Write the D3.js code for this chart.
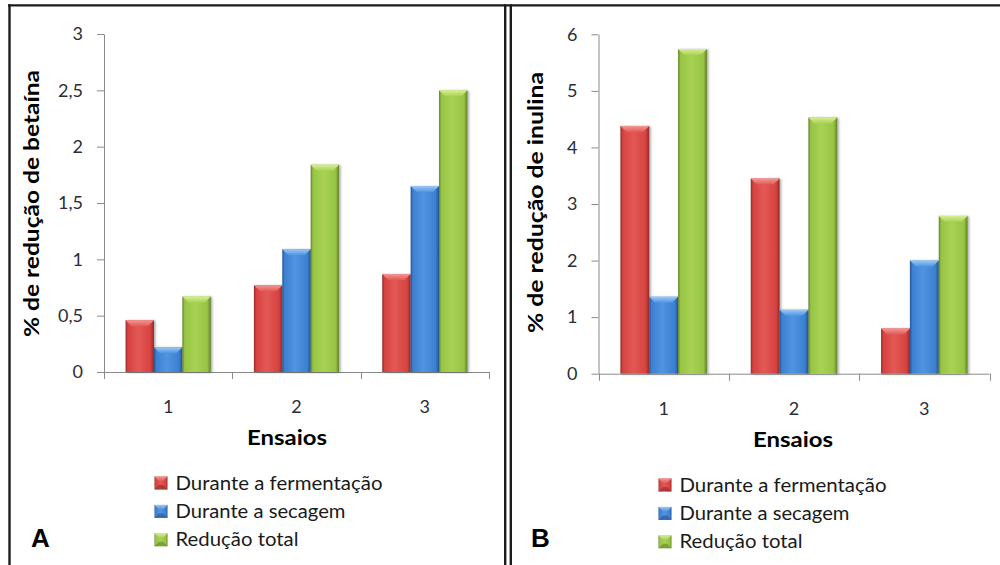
<!DOCTYPE html>
<html>
<head>
<meta charset="utf-8">
<script src="https://cdn.jsdelivr.net/npm/d3@7/dist/d3.min.js"></script>
<style>
  html, body { margin: 0; padding: 0; background: #fff; }
  svg { display: block; }
</style>
</head>
<body>
<svg id="chart" width="1000" height="565"></svg>
<script>
// Ensaios (trials) on the x axis
const ensaios = ["1", "2", "3"];
// Legend series
const series = ["Durante a fermentação", "Durante a secagem", "Redução total"];

// Panel A: % de redução de betaína
const betainaFermentacao = [0.46, 0.77, 0.87];
const betainaSecagem     = [0.22, 1.09, 1.65];
const betainaTotal       = [0.67, 1.84, 2.50];
const betainaTicks       = [0, 0.5, 1, 1.5, 2, 2.5, 3];

// Panel B: % de redução de inulina
const inulinaFermentacao = [4.38, 3.45, 0.80];
const inulinaSecagem     = [1.36, 1.13, 2.00];
const inulinaTotal       = [5.74, 4.53, 2.79];
const inulinaTicks       = [0, 1, 2, 3, 4, 5, 6];

const svg = d3.select("#chart");
const defs = svg.append("defs");
const ptBR = d3.formatLocale({decimal: ",", thousands: ".", grouping: [3], currency: ["R$", ""]});
const fmt = ptBR.format(".1~f");

// Bevelled bar colours: [dark edge, body, highlight, bevel top]
const palette = {
  "Durante a fermentação": ["#8e2a28", "#d7423f", "#e25956", "#f29896"],
  "Durante a secagem":     ["#24538f", "#3b80d2", "#5095e0", "#9cc8f5"],
  "Redução total":         ["#62802a", "#96c443", "#a8d253", "#d6ef95"]
};
const keyOf = s => "g" + series.indexOf(s);

series.forEach(s => {
  const c = palette[s];
  const g = defs.append("linearGradient").attr("id", keyOf(s)).attr("x1", 0).attr("x2", 1).attr("y1", 0).attr("y2", 0);
  [[0, c[0]], [0.08, c[1]], [0.45, c[2]], [0.88, c[1]], [1, c[0]]].forEach(([o, col]) =>
    g.append("stop").attr("offset", o).attr("stop-color", col));
  const b = defs.append("linearGradient").attr("id", keyOf(s) + "b").attr("x1", 0).attr("x2", 0).attr("y1", 0).attr("y2", 1);
  b.append("stop").attr("offset", 0).attr("stop-color", c[3]);
  b.append("stop").attr("offset", 1).attr("stop-color", c[2]);
});
const shadow = defs.append("filter").attr("id", "shadow").attr("x", "-20%").attr("y", "-5%").attr("width", "150%").attr("height", "115%");
shadow.append("feDropShadow").attr("dx", 1.5).attr("dy", 0.5).attr("stdDeviation", 1.1)
  .attr("flood-color", "#000").attr("flood-opacity", 0.35);

const FONT = "Lato, 'Open Sans', sans-serif";

function panel(cfg) {
  const g = svg.append("g");
  const x = d3.scaleBand().domain(ensaios).range([cfg.x0, cfg.x1]).padding(0);
  const xs = d3.scaleBand().domain(series).range([0, x.bandwidth()]).paddingInner(0).paddingOuter(0.76);
  const y = d3.scaleLinear().domain([0, d3.max(cfg.ticks)]).range([cfg.yb, cfg.yt]);

  // y axis
  const ya = g.append("g").attr("transform", `translate(${cfg.x0},0)`)
    .call(d3.axisLeft(y).tickValues(cfg.ticks).tickFormat(fmt).tickSize(7).tickSizeOuter(0).tickPadding(14));
  ya.select(".domain").attr("stroke", "#8a8a8a");
  ya.selectAll(".tick line").attr("stroke", "#8a8a8a");
  ya.selectAll(".tick text").attr("fill", "#2c2c36").style("font", `18px ${FONT}`);

  // x axis with boundary ticks, labels centred in each band
  g.append("line").attr("x1", cfg.x0).attr("x2", cfg.x1).attr("y1", cfg.yb + 0.5).attr("y2", cfg.yb + 0.5).attr("stroke", "#8a8a8a");
  const bounds = [cfg.x0].concat(ensaios.map(e => x(e) + x.bandwidth()));
  g.selectAll(".xt").data(bounds).join("line").attr("class", "xt")
    .attr("x1", d => Math.round(d) + 0.5).attr("x2", d => Math.round(d) + 0.5)
    .attr("y1", cfg.yb).attr("y2", cfg.yb + 7).attr("stroke", "#8a8a8a");
  g.selectAll(".xl").data(ensaios).join("text").attr("class", "xl")
    .attr("x", d => x(d) + x.bandwidth() / 2).attr("y", cfg.catBase)
    .attr("text-anchor", "middle").attr("fill", "#2c2c36").style("font", `18px ${FONT}`).text(d => d);

  // bars
  const rows = [];
  ensaios.forEach((e, i) => series.forEach((s, k) => rows.push({e, s, v: cfg.values[k][i]})));
  const bars = g.selectAll(".bar").data(rows).join("g").attr("class", "bar");
  bars.append("rect")
    .attr("x", d => x(d.e) + xs(d.s)).attr("width", xs.bandwidth())
    .attr("y", d => y(d.v)).attr("height", d => y(0) - y(d.v))
    .attr("fill", d => `url(#${keyOf(d.s)})`).attr("filter", "url(#shadow)");
  bars.append("path")
    .attr("d", d => {
      const bx = x(d.e) + xs(d.s), bw = xs.bandwidth(), by = y(d.v), h = Math.min(6, y(0) - y(d.v));
      return `M${bx},${by}H${bx + bw}L${bx + bw - 6},${by + h}H${bx + 6}Z`;
    })
    .attr("fill", d => `url(#${keyOf(d.s)}b)`);

  // axis titles
  g.append("text")
    .attr("transform", `translate(${cfg.titleX},${cfg.titleY}) rotate(-90)`)
    .attr("text-anchor", "middle").attr("fill", "#000")
    .attr("textLength", cfg.titleLen).attr("lengthAdjust", "spacingAndGlyphs")
    .style("font", `bold 21px ${FONT}`).text(cfg.title);
  g.append("text").attr("x", cfg.ensX).attr("y", cfg.ensBase).attr("text-anchor", "middle")
    .attr("textLength", 80).attr("lengthAdjust", "spacingAndGlyphs")
    .style("font", `bold 21px ${FONT}`).attr("fill", "#000").text("Ensaios");

  // legend
  const lg = g.selectAll(".lg").data(series).join("g").attr("class", "lg")
    .attr("transform", (d, i) => `translate(${cfg.legX},${cfg.legBase + i * 28.4})`);
  lg.append("rect").attr("x", 0).attr("y", -13).attr("width", 13).attr("height", 13)
    .attr("fill", d => `url(#${keyOf(d)})`);
  lg.append("path").attr("d", "M0,-13H13L8.5,-8.5H4.5Z").attr("fill", d => `url(#${keyOf(d)}b)`);
  lg.append("path").attr("d", "M0,0H13L8.5,-4.5H4.5Z").attr("fill", d => palette[d][0]).attr("opacity", 0.6);
  const legLens = [207, 170, 123];
  lg.append("text").attr("x", 21).attr("y", 0)
    .attr("textLength", (d, i) => legLens[i]).attr("lengthAdjust", "spacingAndGlyphs")
    .style("font", `18.5px ${FONT}`).attr("fill", "#1a1a1a").text(d => d);

  // panel letter
  g.append("text").attr("x", cfg.letterX).attr("y", 547)
    .style("font", "bold 26px 'Liberation Sans', Arial, sans-serif").attr("fill", "#000").text(cfg.letter);
}

panel({
  x0: 104, x1: 489, yb: 372, yt: 34, ticks: betainaTicks,
  values: [betainaFermentacao, betainaSecagem, betainaTotal],
  catBase: 413, title: "% de redução de betaína", titleX: 39, titleY: 203.5, titleLen: 267,
  ensX: 287, ensBase: 445, legX: 154.5, legBase: 489.5, letter: "A", letterX: 31
});
panel({
  x0: 598.5, x1: 989.5, yb: 373.7, yt: 34.3, ticks: inulinaTicks,
  values: [inulinaFermentacao, inulinaSecagem, inulinaTotal],
  catBase: 415, title: "% de redução de inulina", titleX: 543, titleY: 202.5, titleLen: 261,
  ensX: 793, ensBase: 446.5, legX: 658.5, legBase: 491.5, letter: "B", letterX: 531
});

// frame lines
const frame = svg.append("g").attr("stroke", "#1c1c1c").attr("stroke-width", 2.4).attr("fill", "none");
frame.append("line").attr("x1", 8).attr("x2", 1000).attr("y1", 5.4).attr("y2", 5.4);
frame.append("line").attr("x1", 9.5).attr("x2", 9.5).attr("y1", 4.2).attr("y2", 565);
frame.append("line").attr("x1", 505.2).attr("x2", 505.2).attr("y1", 4.2).attr("y2", 565);
frame.append("line").attr("x1", 510.8).attr("x2", 510.8).attr("y1", 4.2).attr("y2", 565);
</script>
</body>
</html>
